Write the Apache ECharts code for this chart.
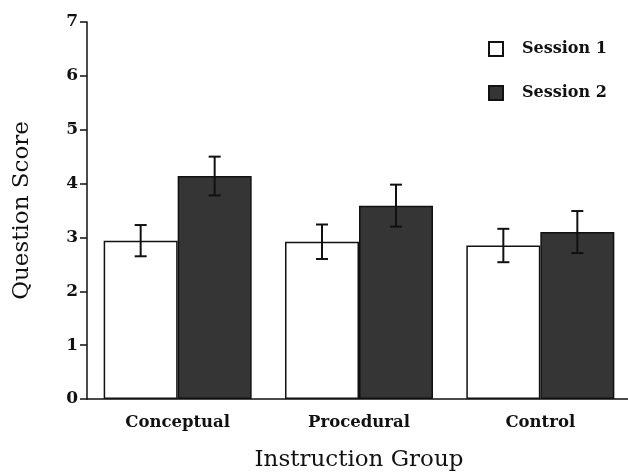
<!DOCTYPE html>
<html><head><meta charset="utf-8">
<script src="https://cdn.jsdelivr.net/npm/echarts@6/dist/echarts.min.js"></script>
<style>html,body{margin:0;padding:0;background:#fff}#c{width:628px;height:476px}</style>
</head><body><div id="c"></div>
<script>
const categories = ['Conceptual', 'Procedural', 'Control'];
const session1 = [2.94, 2.92, 2.85];
const session2 = [4.14, 3.59, 3.10];
const session1Err = [0.29, 0.32, 0.31];
const session2Err = [0.36, 0.39, 0.39];
const yTicks = [0, 1, 2, 3, 4, 5, 6, 7];

const FONT = 'DejaVu Serif';
const BAR_W = 74;

function errSeries(name, vals, errs, side) {
  return {
    type: 'custom', name: name + ' err', silent: true, z: 5,
    data: vals.map((v, i) => [i, v, errs[i]]),
    renderItem: function (params, api) {
      const i = api.value(0), v = api.value(1), e = api.value(2);
      const top = api.coord([i, v + e]);
      const bot = api.coord([i, v - e]);
      const x = top[0] + side * BAR_W / 2;
      const cap = 6;
      const st = { stroke: '#111', lineWidth: 2 };
      return { type: 'group', children: [
        { type: 'line', shape: { x1: x, y1: top[1], x2: x, y2: bot[1] }, style: st },
        { type: 'line', shape: { x1: x - cap, y1: top[1], x2: x + cap, y2: top[1] }, style: st },
        { type: 'line', shape: { x1: x - cap, y1: bot[1], x2: x + cap, y2: bot[1] }, style: st }
      ]};
    }
  };
}

const chart = echarts.init(document.getElementById('c'));
chart.setOption({
  animation: false,
  backgroundColor: '#fff',
  grid: { left: 87, top: 22, bottom: 77, right: -3, outerBoundsMode: 'none', containLabel: false },
  legend: {
    orient: 'vertical', left: 488, top: 41, itemGap: 28, padding: 0,
    itemWidth: 14, itemHeight: 14, icon: 'rect',
    textStyle: { fontFamily: FONT, fontWeight: 'bold', fontSize: 16, color: '#111', padding: [0, 0, 0, 14] },
    data: ['Session 1', 'Session 2']
  },
  xAxis: {
    type: 'category', data: categories,
    name: 'Instruction Group', nameLocation: 'middle', nameGap: 50,
    nameTextStyle: { fontFamily: FONT, fontSize: 23, color: '#111' },
    axisLine: { lineStyle: { color: '#111', width: 1.5 } },
    axisTick: { alignWithLabel: true, length: 8, lineStyle: { color: '#111', width: 1.5 } },
    axisLabel: { margin: 15, fontFamily: FONT, fontWeight: 'bold', fontSize: 16.5, color: '#111' }
  },
  yAxis: {
    type: 'value', min: yTicks[0], max: yTicks[yTicks.length - 1], interval: 1,
    name: 'Question Score', nameLocation: 'middle', nameGap: 53,
    nameTextStyle: { fontFamily: FONT, fontSize: 23, color: '#111' },
    axisLine: { show: true, lineStyle: { color: '#111', width: 1.5 } },
    axisTick: { show: true, length: 7, lineStyle: { color: '#111', width: 1.5 } },
    axisLabel: { margin: 9, fontFamily: FONT, fontWeight: 'bold', fontSize: 17, color: '#111' },
    splitLine: { show: false }
  },
  series: [
    { type: 'bar', name: 'Session 1', data: session1, barWidth: BAR_W, barGap: '0%',
      itemStyle: { color: '#ffffff', borderColor: '#111', borderWidth: 1.5 } },
    { type: 'bar', name: 'Session 2', data: session2, barWidth: BAR_W, barGap: '0%',
      itemStyle: { color: '#353535', borderColor: '#111', borderWidth: 1.5 } },
    errSeries('Session 1', session1, session1Err, -1),
    errSeries('Session 2', session2, session2Err, 1)
  ]
});
</script></body></html>
